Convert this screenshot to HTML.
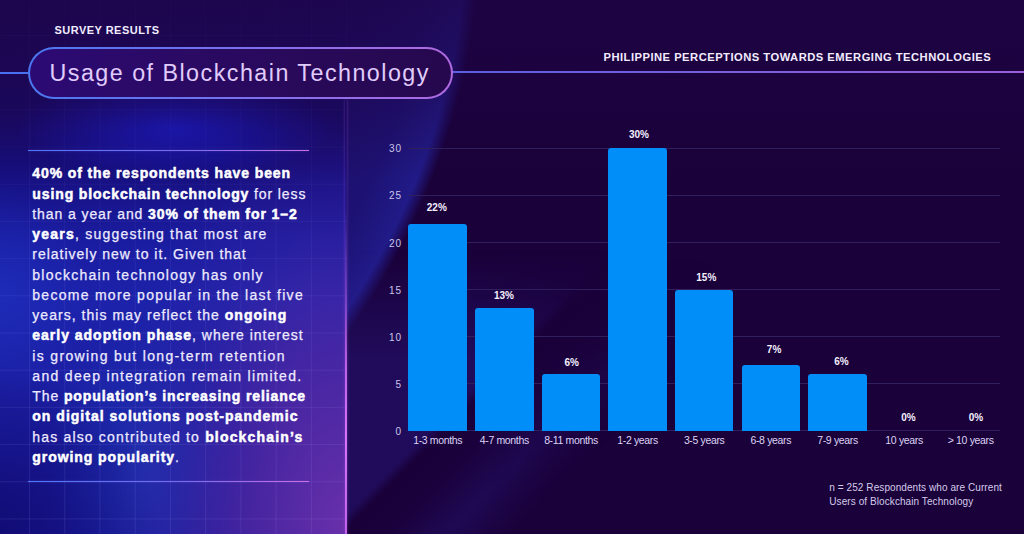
<!DOCTYPE html>
<html><head><meta charset="utf-8">
<style>
*{margin:0;padding:0;box-sizing:border-box}
html,body{width:1024px;height:534px;overflow:hidden}
body{position:relative;background:#1a0139;font-family:"Liberation Sans",sans-serif;}
#leftbg{position:absolute;left:0;top:0;width:346px;height:534px;
 background:
  radial-gradient(ellipse 240px 430px at 346px 534px, rgba(112,50,172,0.92), rgba(96,42,162,0.6) 42%, rgba(92,40,160,0.18) 72%, rgba(92,40,160,0) 100%),
  radial-gradient(ellipse 160px 170px at 0px 534px, rgba(16,10,112,0.9), rgba(16,10,112,0) 100%),
  radial-gradient(ellipse 95px 150px at 140px 470px, rgba(32,60,185,0.55), rgba(32,60,185,0) 100%),
  radial-gradient(ellipse 90px 110px at 0px 290px, rgba(30,55,200,0.45), rgba(30,55,200,0) 100%),
  radial-gradient(ellipse 160px 50px at 175px 128px, rgba(26,30,215,0.85), rgba(26,30,215,0) 100%),
  linear-gradient(180deg, rgba(24,8,100,0) 0px, rgba(22,10,104,0.85) 110px, #160e7c 165px, #1a1ca0 240px, #1c22aa 300px, #1a1a9a 534px);}
#beam{position:absolute;left:0;top:0;width:1024px;height:534px;
 background:radial-gradient(circle 701px at -226px -80px, #1d0758 0%, #1c0c66 80%, #1d1274 93%, #211b88 98.8%, rgba(33,27,136,0) 100.9%);}
#survey{position:absolute;left:54.5px;top:24.5px;font-size:11px;line-height:1;font-weight:bold;color:#f2ecff;white-space:nowrap;letter-spacing:0.47px}
#pill{position:absolute;left:28px;top:47px;width:425px;height:52px;border-radius:26px;border:2px solid transparent;
 background:linear-gradient(90deg,#2c0a74 0%,#2a0a62 40%,#26084e 100%) padding-box, linear-gradient(90deg,#4a78f0 0%,#7a70ec 50%,#b06ae0 100%) border-box}
#title{position:absolute;left:49.5px;top:62.3px;font-size:23.3px;line-height:1;color:#e0ccfc;white-space:nowrap;letter-spacing:1.47px}
#lline{position:absolute;left:0;top:71.5px;width:28px;height:2px;background:#4a70f0}
#rline{position:absolute;left:452px;top:71px;width:572px;height:2px;background:linear-gradient(90deg,#5a60e0,#9a60d8)}
#phil{position:absolute;left:603.5px;top:51.5px;font-size:11.2px;line-height:1;font-weight:bold;color:#f2ecff;white-space:nowrap;letter-spacing:0.49px}
.sep{position:absolute;left:28px;width:281px;height:1.6px;background:linear-gradient(90deg,#4a78ff,#7a6ae8 55%,#d070e0);box-shadow:0 0 2px rgba(120,110,240,0.5)}
#para{position:absolute;left:32.3px;top:163.3px;font-size:14px;line-height:20.27px;color:#eeeaff;-webkit-text-stroke:0.25px #eeeaff}
.pl{white-space:nowrap;height:20.27px}
.pl b{color:#ffffff;-webkit-text-stroke:0.5px #fff}
.gl{position:absolute;left:408px;width:591.5px;height:1px;background:#301f5c}
.yl{position:absolute;left:371.9px;width:30px;text-align:right;font-size:10px;line-height:1;color:#ccc4e8;letter-spacing:0.9px}
.bar{position:absolute;width:58.6px;background:#028ef8;border-radius:3px 3px 0 0}
.vl{position:absolute;width:60px;text-align:center;font-size:10px;line-height:1;font-weight:bold;color:#f4f0ff}
.xl{position:absolute;width:80px;text-align:center;font-size:10.5px;line-height:1;color:#dcd4f4;white-space:nowrap;letter-spacing:-0.35px}
#foot{position:absolute;left:829.3px;top:481px;font-size:10px;line-height:14px;color:#d4cceb;white-space:nowrap;letter-spacing:0.08px}
#grid{position:absolute;left:0;top:0;width:347px;height:534px;
 background-image:linear-gradient(90deg, rgba(170,160,255,0.13) 1px, transparent 1px), linear-gradient(180deg, rgba(170,160,255,0.13) 1px, transparent 1px);
 background-size:35.24px 37.2px; background-position:29px 35px;
 -webkit-mask-image:linear-gradient(180deg, rgba(0,0,0,0.15) 0%, rgba(0,0,0,0.35) 30%, rgba(0,0,0,0.8) 60%, #000 100%);}
#edge{position:absolute;left:344.5px;top:100px;width:2px;height:434px;
 background:linear-gradient(180deg, rgba(180,90,230,0) 0%, rgba(180,90,230,0) 25%, rgba(190,95,238,0.45) 45%, rgba(205,105,245,0.9) 62%, rgba(215,115,250,1) 78%, rgba(200,100,240,0.95) 100%);box-shadow:0 0 3px rgba(190,90,240,0.45);}
#beams{position:absolute;left:0;top:0;width:1024px;height:534px}
#topshade{position:absolute;left:0;top:0;width:1024px;height:180px;
 background:linear-gradient(180deg, rgba(30,4,70,0.72) 0px, rgba(30,4,70,0.5) 80px, rgba(30,4,70,0) 180px);}

</style></head><body>
<div id="beam"></div>
<svg id="beams" width="1024" height="534" viewBox="0 0 1024 534">
<defs>
<linearGradient id="diag" gradientUnits="userSpaceOnUse" x1="430" y1="430" x2="530" y2="530">
<stop offset="0" stop-color="#2a1c8c" stop-opacity="0.42"/>
<stop offset="0.08" stop-color="#2a1c8c" stop-opacity="0"/>
<stop offset="0.3" stop-color="#2a1c8c" stop-opacity="0.05"/>
<stop offset="0.6" stop-color="#2a1c8c" stop-opacity="0.32"/>
<stop offset="0.95" stop-color="#2a1c8c" stop-opacity="0"/>
</linearGradient>
<linearGradient id="fadev" gradientUnits="userSpaceOnUse" x1="0" y1="250" x2="0" y2="360">
<stop offset="0" stop-color="#fff" stop-opacity="0"/><stop offset="1" stop-color="#fff" stop-opacity="1"/>
</linearGradient>
<linearGradient id="fadeh" gradientUnits="userSpaceOnUse" x1="480" y1="0" x2="720" y2="0">
<stop offset="0" stop-color="#fff" stop-opacity="1"/><stop offset="1" stop-color="#fff" stop-opacity="0"/>
</linearGradient>
<mask id="m1"><rect x="0" y="0" width="1024" height="534" fill="url(#fadev)"/></mask>
<mask id="m2"><rect x="0" y="0" width="1024" height="534" fill="url(#fadeh)"/></mask>
</defs>
<g mask="url(#m2)"><rect x="346" y="240" width="678" height="294" fill="url(#diag)" mask="url(#m1)"/></g>
</svg>
<div id="leftbg"></div>
<div id="topshade"></div>
<div id="grid"></div>
<div id="edge"></div>
<div id="survey">SURVEY RESULTS</div>
<div id="lline"></div>
<div id="rline"></div>
<div id="pill"></div>
<div id="title">Usage of Blockchain Technology</div>
<div id="phil">PHILIPPINE PERCEPTIONS TOWARDS EMERGING TECHNOLOGIES</div>
<div class="sep" style="top:149.5px"></div>
<div id="para">
<div class="pl" style="letter-spacing:0.887px"><b>40% of the respondents have been</b></div>
<div class="pl" style="letter-spacing:0.891px"><b>using blockchain technology</b> for less</div>
<div class="pl" style="letter-spacing:0.912px">than a year and <b>30% of them for 1–2</b></div>
<div class="pl" style="letter-spacing:1.213px"><b>years</b>, suggesting that most are</div>
<div class="pl" style="letter-spacing:0.987px">relatively new to it. Given that</div>
<div class="pl" style="letter-spacing:1.259px">blockchain technology has only</div>
<div class="pl" style="letter-spacing:1.277px">become more popular in the last five</div>
<div class="pl" style="letter-spacing:1.038px">years, this may reflect the <b>ongoing</b></div>
<div class="pl" style="letter-spacing:0.986px"><b>early adoption phase</b>, where interest</div>
<div class="pl" style="letter-spacing:1.345px">is growing but long-term retention</div>
<div class="pl" style="letter-spacing:1.323px">and deep integration remain limited.</div>
<div class="pl" style="letter-spacing:0.897px">The <b>population’s increasing reliance</b></div>
<div class="pl" style="letter-spacing:1.012px"><b>on digital solutions post-pandemic</b></div>
<div class="pl" style="letter-spacing:1.169px">has also contributed to <b>blockchain’s</b></div>
<div class="pl" style="letter-spacing:0.928px"><b>growing popularity</b>.</div>
</div>
<div class="sep" style="top:480.6px"></div>
<div class="gl" style="top:430.2px"></div>
<div class="gl" style="top:383.1px"></div>
<div class="gl" style="top:336.0px"></div>
<div class="gl" style="top:289.0px"></div>
<div class="gl" style="top:241.9px"></div>
<div class="gl" style="top:194.8px"></div>
<div class="gl" style="top:147.7px"></div>
<div class="yl" style="top:426.8px">0</div>
<div class="yl" style="top:379.8px">5</div>
<div class="yl" style="top:332.7px">10</div>
<div class="yl" style="top:285.6px">15</div>
<div class="yl" style="top:238.5px">20</div>
<div class="yl" style="top:191.4px">25</div>
<div class="yl" style="top:144.4px">30</div>
<div class="bar" style="left:408.4px;top:223.5px;height:207.2px"></div>
<div class="bar" style="left:475.0px;top:308.3px;height:122.4px"></div>
<div class="bar" style="left:541.7px;top:374.2px;height:56.5px"></div>
<div class="bar" style="left:608.3px;top:148.2px;height:282.5px"></div>
<div class="bar" style="left:674.9px;top:289.5px;height:141.2px"></div>
<div class="bar" style="left:741.5px;top:364.8px;height:65.9px"></div>
<div class="bar" style="left:808.2px;top:374.2px;height:56.5px"></div>
<div class="vl" style="left:406.8px;top:202.5px">22%</div>
<div class="xl" style="left:397.7px;top:435.1px">1-3 months</div>
<div class="vl" style="left:474.0px;top:290.5px">13%</div>
<div class="xl" style="left:464.3px;top:435.1px">4-7 months</div>
<div class="vl" style="left:541.7px;top:357.6px">6%</div>
<div class="xl" style="left:531.0px;top:435.1px">8-11 months</div>
<div class="vl" style="left:608.9px;top:130.2px">30%</div>
<div class="xl" style="left:597.6px;top:435.1px">1-2 years</div>
<div class="vl" style="left:676.3px;top:272.8px">15%</div>
<div class="xl" style="left:664.2px;top:435.1px">3-5 years</div>
<div class="vl" style="left:744.1px;top:344.7px">7%</div>
<div class="xl" style="left:730.8px;top:435.1px">6-8 years</div>
<div class="vl" style="left:811.4px;top:357.2px">6%</div>
<div class="xl" style="left:797.5px;top:435.1px">7-9 years</div>
<div class="vl" style="left:878.5px;top:413.0px">0%</div>
<div class="xl" style="left:864.1px;top:435.1px">10 years</div>
<div class="vl" style="left:945.9px;top:413.0px">0%</div>
<div class="xl" style="left:930.7px;top:435.1px">&gt; 10 years</div>
<div id="foot">n = 252 Respondents who are Current<br>Users of Blockchain Technology</div>

</body></html>
